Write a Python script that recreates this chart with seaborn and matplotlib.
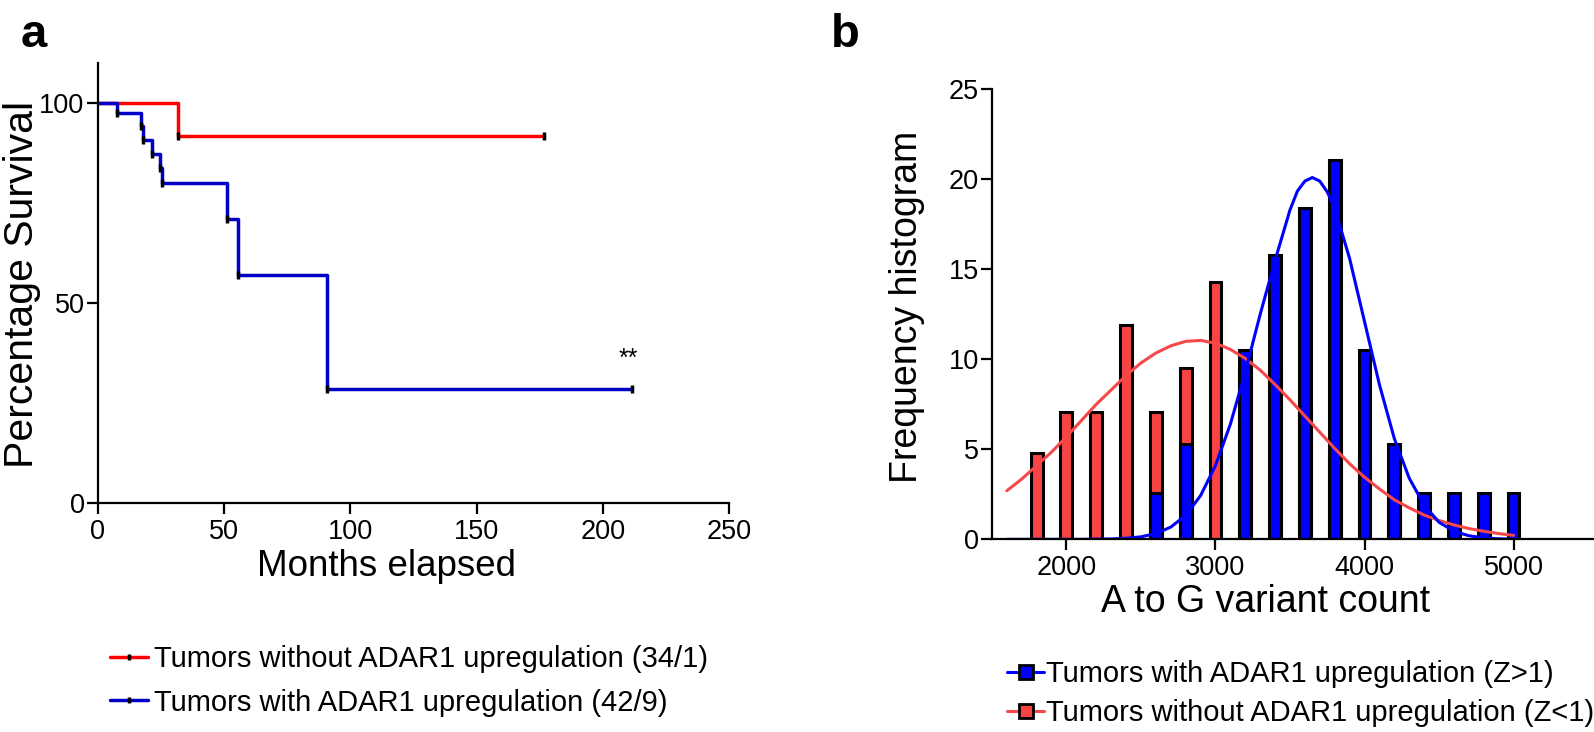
import pandas as pd
import seaborn as sns
import matplotlib.pyplot as plt
from matplotlib.lines import Line2D

# panel a: Kaplan-Meier steps (months, % survival)
months_without = [0, 31.8, 176.8]
surv_without = [100, 91.6, 91.6]
months_with = [0, 7.6, 17.2, 18.0, 21.4, 24.8, 25.6, 51.0, 55.6, 90.6, 211.6]
surv_with = [100, 97.5, 94.3, 90.6, 87.3, 83.7, 80.0, 71.1, 56.9, 28.6, 28.6]

# panel b: histogram bins (A to G variant count) and frequencies (%)
bins_low = [1800, 2000, 2200, 2400, 2600, 2800, 3000, 3200, 3400, 3600, 3800, 4000, 4200]
freq_low = [4.8, 7.1, 7.1, 11.9, 7.1, 9.5, 14.3, 9.5, 9.5, 7.1, 4.8, 4.8, 2.4]
bins_high = [2600, 2800, 3200, 3400, 3600, 3800, 4000, 4200, 4400, 4600, 4800, 5000]
freq_high = [2.6, 5.3, 10.5, 15.8, 18.4, 21.1, 10.5, 5.3, 2.6, 2.6, 2.6, 2.6]

# fitted curves
low_x = list(range(1600, 5001, 100))
curve_low = [2.7, 3.35, 4.1, 4.85, 5.7, 6.6, 7.5, 8.3, 9.1, 9.8, 10.35, 10.75, 11.0, 11.05,
             10.9, 10.55, 10.05, 9.4, 8.6, 7.75, 6.85, 5.95, 5.05, 4.2, 3.45, 2.8, 2.2, 1.75,
             1.35, 1.05, 0.8, 0.6, 0.45, 0.32, 0.22]
high_x = [1600, 1700, 1800, 1900, 2000, 2100, 2200, 2300, 2400, 2500, 2600, 2700, 2800,
          2900, 3000, 3100, 3200, 3300, 3400, 3500, 3550, 3600, 3650, 3700, 3750, 3800,
          3900, 4000, 4100, 4200, 4300, 4400, 4500, 4600, 4700, 4800, 4900, 5000]
curve_high = [0, 0, 0, 0, 0, 0, 0.01, 0.02, 0.06, 0.14, 0.32, 0.68, 1.33, 2.43, 4.1, 6.4,
              9.3, 12.5, 15.5, 18.3, 19.35, 19.9, 20.1, 19.9, 19.3, 18.4, 15.6, 12.1, 8.6,
              5.6, 3.4, 1.9, 0.95, 0.45, 0.2, 0.08, 0.03, 0.01]

RED = '#ff0000'
DBLUE = '#0000c8'
BAR_RED = '#f84343'
LINE_RED = '#f54848'
BLUE = '#0000ff'

sns.set_style('ticks')
plt.rcParams['font.family'] = ['Liberation Sans', 'DejaVu Sans']
plt.rcParams.update({'axes.linewidth': 1.6, 'text.color': 'black', 'axes.labelcolor': 'black',
                     'xtick.color': 'black', 'ytick.color': 'black', 'axes.edgecolor': 'black'})

fig = plt.figure(figsize=(15.94, 7.32), dpi=100)
ax_a = fig.add_axes([0.0613, 0.3124, 0.3962, 0.6019])
ax_b = fig.add_axes([0.6223, 0.2632, 0.3777, 0.6148])

# ---- panel a
sns.lineplot(x=months_without, y=surv_without, drawstyle='steps-post', color=RED,
             lw=2.5, estimator=None, ax=ax_a)
sns.lineplot(x=months_with, y=surv_with, drawstyle='steps-post', color=DBLUE,
             lw=2.5, estimator=None, ax=ax_a)
sns.scatterplot(x=months_without[1:] + months_with[1:], y=surv_without[1:] + surv_with[1:],
                marker='|', color='black', s=30, linewidth=2.5, zorder=5, ax=ax_a)
ax_a.text(210, 33, '**', fontsize=18, ha='center', va='bottom')

ax_a.set_xlim(0, 250)
ax_a.set_ylim(0, 110)
ax_a.set_xticks([0, 50, 100, 150, 200, 250])
ax_a.set_yticks([0, 50, 100])
ax_a.tick_params(labelsize=19.5, length=8, width=1.6)
ax_a.tick_params(axis='y', pad=1.5)
ax_a.set_xlabel('Months elapsed', fontsize=26.5)
ax_a.set_ylabel('Percentage Survival', fontsize=29.5)
ax_a.xaxis.set_label_coords(0.457, -0.104)
ax_a.yaxis.set_label_coords(-0.090, 0.496)
sns.despine(ax=ax_a)

handles_a = [
    Line2D([], [], color=RED, lw=2.5, marker='|', markersize=5, mec='black', mew=2.5),
    Line2D([], [], color=DBLUE, lw=2.5, marker='|', markersize=5, mec='black', mew=2.5),
]
fig.legend(handles_a, ['Tumors without ADAR1 upregulation (34/1)',
                       'Tumors with ADAR1 upregulation (42/9)'],
           loc='upper left', bbox_to_anchor=(0.069, 0.119), frameon=False, fontsize=21,
           handlelength=1.3, handletextpad=0.2, labelspacing=0.54,
           borderpad=0, borderaxespad=0)

# ---- panel b
sns.barplot(x=bins_low, y=freq_low, native_scale=True, width=0.4, color=BAR_RED,
            saturation=1, edgecolor='black', linewidth=2.2, errorbar=None, ax=ax_b)
sns.barplot(x=bins_high, y=freq_high, native_scale=True, width=0.4, color=BLUE,
            saturation=1, edgecolor='black', linewidth=2.2, errorbar=None, ax=ax_b)
sns.lineplot(x=low_x, y=curve_low, color=LINE_RED, lw=2.2, estimator=None, ax=ax_b)
sns.lineplot(x=high_x, y=curve_high, color=BLUE, lw=2.2, estimator=None, ax=ax_b)

ax_b.set_xlim(1500, 5540)
ax_b.set_ylim(0, 25)
ax_b.set_xticks([2000, 3000, 4000, 5000])
ax_b.set_xticklabels(['2000', '3000', '4000', '5000'])
ax_b.set_yticks([0, 5, 10, 15, 20, 25])
ax_b.tick_params(labelsize=19.5, length=8, width=1.6)
ax_b.tick_params(axis='y', pad=1.5)
ax_b.set_xlabel('A to G variant count', fontsize=27)
ax_b.set_ylabel('Frequency histogram', fontsize=27)
ax_b.xaxis.set_label_coords(0.454, -0.1)
ax_b.yaxis.set_label_coords(-0.112, 0.516)
sns.despine(ax=ax_b)

handles_b = [
    Line2D([], [], color=BLUE, lw=2.2, marker='s', markersize=10, mfc=BLUE, mec='black', mew=2),
    Line2D([], [], color=LINE_RED, lw=2.2, marker='s', markersize=10, mfc=BAR_RED, mec='black', mew=2),
]
fig.legend(handles_b, ['Tumors with ADAR1 upregulation (Z>1)',
                       'Tumors without ADAR1 upregulation (Z<1)'],
           loc='upper left', bbox_to_anchor=(0.632, 0.098), frameon=False, fontsize=21,
           handlelength=1.25, handletextpad=0.08, labelspacing=0.37,
           borderpad=0, borderaxespad=0)

fig.text(0.013, 0.936, 'a', fontsize=34, fontweight='bold', va='baseline')
fig.text(0.521, 0.936, 'b', fontsize=34, fontweight='bold', va='baseline')

fig.savefig('out.png', dpi=100)
